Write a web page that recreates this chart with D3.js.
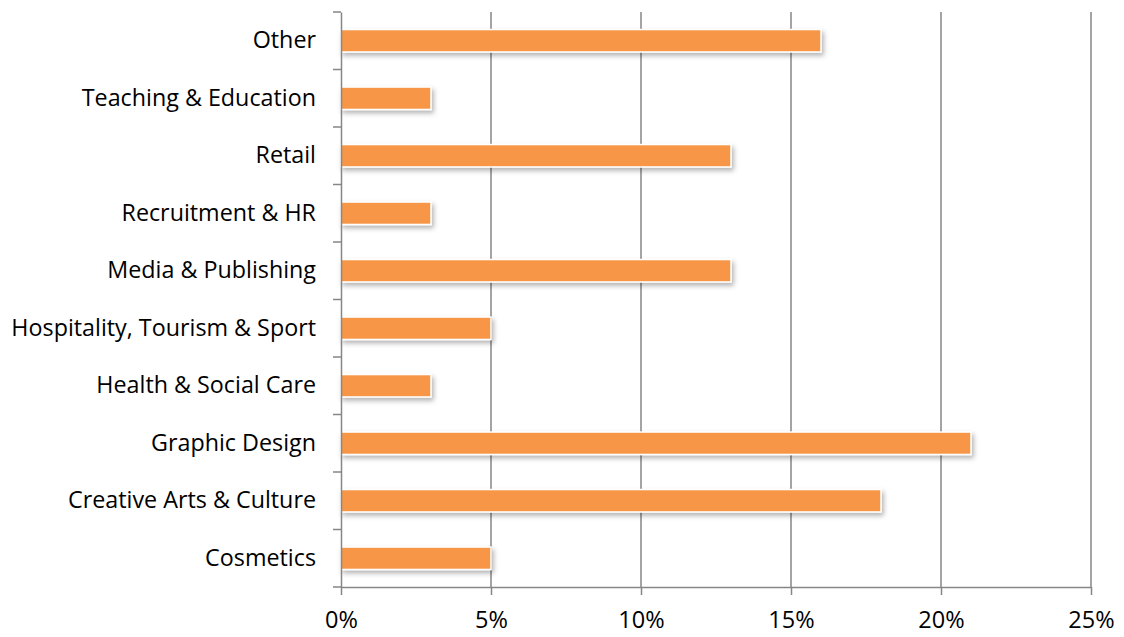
<!DOCTYPE html>
<html><head><meta charset="utf-8">
<script src="https://cdn.jsdelivr.net/npm/d3@7"></script>
<style>body{margin:0;background:#fff}svg{display:block}</style>
</head><body>
<svg id="c" width="1124" height="637"></svg>
<script>
const categories = ["Other","Teaching & Education","Retail","Recruitment & HR","Media & Publishing","Hospitality, Tourism & Sport","Health & Social Care","Graphic Design","Creative Arts & Culture","Cosmetics"];
const values = [16,3,13,3,13,5,3,21,18,5];
const xTicks = [0,5,10,15,20,25];

(function(){
const svg = d3.select("#c");
const pLeft = 341, pRight = 1091, pTop = 12, pBottom = 587;
const x = d3.scaleLinear().domain([0,25]).range([pLeft,pRight]);
const y = d3.scaleBand().domain(categories).range([pTop,pBottom]).paddingInner(0.61).paddingOuter(0.305);
const font = "'Open Sans', sans-serif";

const defs = svg.append("defs");
const f = defs.append("filter").attr("id","sh").attr("x","-10%").attr("y","-50%").attr("width","130%").attr("height","250%");
f.append("feDropShadow").attr("dx",2).attr("dy",3).attr("stdDeviation",2.5).attr("flood-color","#000").attr("flood-opacity",0.3);

// gridlines
svg.append("g").selectAll("line").data(xTicks.slice(1)).join("line")
  .attr("x1",d=>x(d)).attr("x2",d=>x(d)).attr("y1",pTop).attr("y2",pBottom)
  .attr("stroke","#868686").attr("stroke-width",1.5);

// bars
svg.append("g").selectAll("rect").data(values).join("rect")
  .attr("x",x(0)).attr("y",(d,i)=>y(categories[i]))
  .attr("width",d=>x(d)-x(0)).attr("height",y.bandwidth())
  .attr("fill","#F79646").attr("stroke","#fff").attr("stroke-width",1.5)
  .attr("filter","url(#sh)");

// x axis
const xAxis = d3.axisBottom(x).tickValues(xTicks).tickFormat(d=>d+"%").tickSize(8).tickPadding(16).tickSizeOuter(0);
const gx = svg.append("g").attr("transform",`translate(0,${pBottom})`).call(xAxis);
gx.select(".domain").attr("stroke","#868686").attr("stroke-width",1.5);
gx.selectAll(".tick line").attr("stroke","#868686").attr("stroke-width",1.5);
gx.selectAll("text").attr("font-family",font).attr("font-size",23.5).attr("fill","#000");

// y axis
const yAxis = d3.axisLeft(y).tickSize(0).tickPadding(25);
const gy = svg.append("g").attr("transform",`translate(${pLeft},0)`).call(yAxis);
gy.select(".domain").attr("stroke","#868686").attr("stroke-width",1.5);
gy.selectAll("text").attr("font-family",font).attr("font-size",23.3).attr("fill","#000");
// boundary ticks between categories
const bounds = d3.range(categories.length+1).map(i=>pTop+i*(pBottom-pTop)/categories.length);
svg.append("g").selectAll("line").data(bounds).join("line")
  .attr("x1",pLeft-8).attr("x2",pLeft).attr("y1",d=>d).attr("y2",d=>d)
  .attr("stroke","#868686").attr("stroke-width",1.5);
})();
</script>
</body></html>
